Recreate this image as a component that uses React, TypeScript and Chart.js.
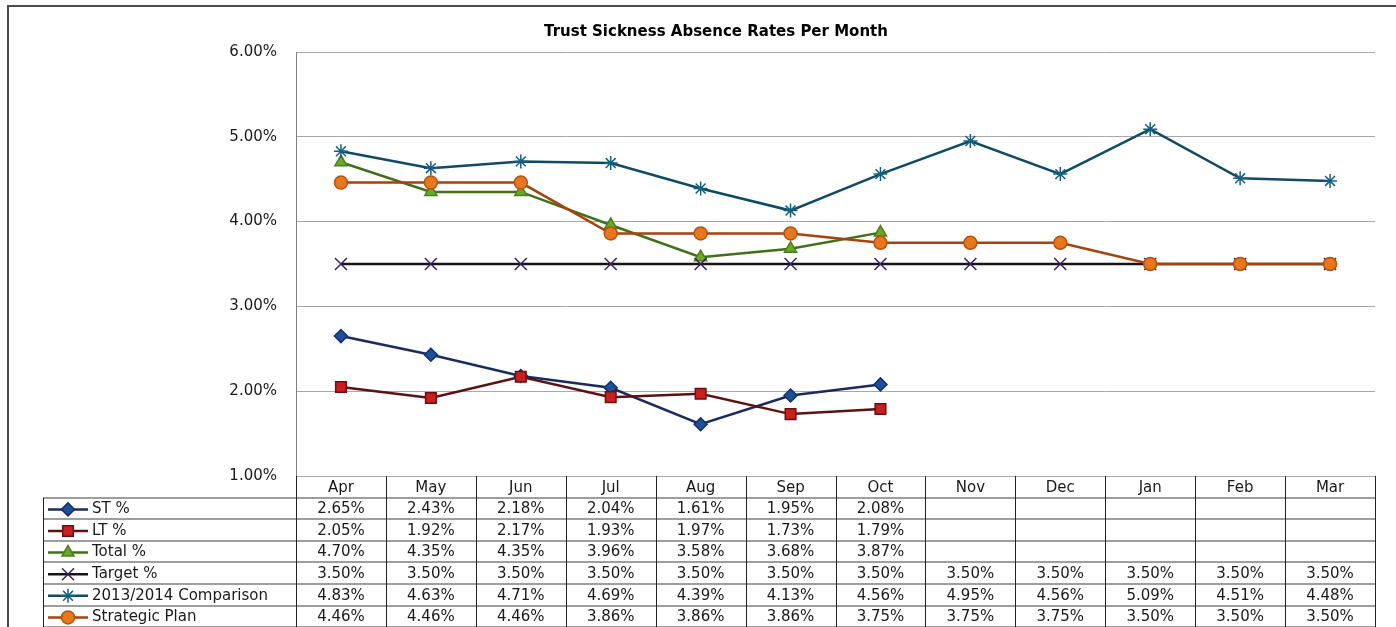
import React, { useEffect, useRef } from "react";
import { Chart, registerables } from "chart.js";

Chart.register(...registerables);

const months = ["Apr", "May", "Jun", "Jul", "Aug", "Sep", "Oct", "Nov", "Dec", "Jan", "Feb", "Mar"];
const stValues = [2.65, 2.43, 2.18, 2.04, 1.61, 1.95, 2.08, null, null, null, null, null];
const ltValues = [2.05, 1.92, 2.17, 1.93, 1.97, 1.73, 1.79, null, null, null, null, null];
const totalValues = [4.7, 4.35, 4.35, 3.96, 3.58, 3.68, 3.87, null, null, null, null, null];
const targetValues = [3.5, 3.5, 3.5, 3.5, 3.5, 3.5, 3.5, 3.5, 3.5, 3.5, 3.5, 3.5];
const comparisonValues = [4.83, 4.63, 4.71, 4.69, 4.39, 4.13, 4.56, 4.95, 4.56, 5.09, 4.51, 4.48];
const strategicValues = [4.46, 4.46, 4.46, 3.86, 3.86, 3.86, 3.75, 3.75, 3.75, 3.5, 3.5, 3.5];
const seriesLabels = ["ST %", "LT %", "Total %", "Target %", "2013/2014 Comparison", "Strategic Plan"];
const titleText = "Trust Sickness Absence Rates Per Month";
const yMin = 1;
const yMax = 6;
const yStep = 1;

const FONT = "'DejaVu Sans', sans-serif";

type Style = {
  line: string;
  fill: string;
  border: string;
  shape: string;
  radius: number;
};

const styles: Style[] = [
  { line: "#1b2b5e", fill: "#1f4f96", border: "#12306a", shape: "rectRot", radius: 6.5 },
  { line: "#5a1212", fill: "#c81f1f", border: "#6e0e0e", shape: "rect", radius: 7.5 },
  { line: "#40701a", fill: "#6aa828", border: "#4c7f1c", shape: "triangle", radius: 7 },
  { line: "#151515", fill: "#3b2068", border: "#3b2068", shape: "crossRot", radius: 8.5 },
  { line: "#0f4a66", fill: "#15607f", border: "#15607f", shape: "star", radius: 7 },
  { line: "#a5420f", fill: "#e8761c", border: "#b5520f", shape: "circle", radius: 6.5 },
];

const seriesValues = [stValues, ltValues, totalValues, targetValues, comparisonValues, strategicValues];

function drawMarker(ctx: CanvasRenderingContext2D, s: Style, x: number, y: number) {
  const r = s.radius;
  ctx.save();
  ctx.fillStyle = s.fill;
  ctx.strokeStyle = s.border;
  ctx.lineWidth = 1.5;
  ctx.beginPath();
  if (s.shape === "rectRot") {
    ctx.moveTo(x - r, y);
    ctx.lineTo(x, y - r);
    ctx.lineTo(x + r, y);
    ctx.lineTo(x, y + r);
    ctx.closePath();
    ctx.fill();
    ctx.stroke();
  } else if (s.shape === "rect") {
    const h = r * Math.SQRT1_2;
    ctx.rect(x - h, y - h, 2 * h, 2 * h);
    ctx.fill();
    ctx.stroke();
  } else if (s.shape === "triangle") {
    ctx.moveTo(x, y - r);
    ctx.lineTo(x + r * 0.866, y + r * 0.5);
    ctx.lineTo(x - r * 0.866, y + r * 0.5);
    ctx.closePath();
    ctx.fill();
    ctx.stroke();
  } else if (s.shape === "crossRot") {
    const h = r * Math.SQRT1_2;
    ctx.moveTo(x - h, y - h);
    ctx.lineTo(x + h, y + h);
    ctx.moveTo(x + h, y - h);
    ctx.lineTo(x - h, y + h);
    ctx.stroke();
  } else if (s.shape === "star") {
    const h = r * Math.SQRT1_2;
    ctx.moveTo(x - h, y - h);
    ctx.lineTo(x + h, y + h);
    ctx.moveTo(x + h, y - h);
    ctx.lineTo(x - h, y + h);
    ctx.moveTo(x, y - r);
    ctx.lineTo(x, y + r);
    ctx.moveTo(x - r, y);
    ctx.lineTo(x + r, y);
    ctx.stroke();
  } else {
    ctx.arc(x, y, r, 0, Math.PI * 2);
    ctx.fill();
    ctx.stroke();
  }
  ctx.restore();
}

const tablePlugin = {
  id: "dataTable",
  afterDraw(chart: any) {
    const { ctx, chartArea, scales } = chart;
    const xs = scales.x;
    const n = months.length;
    const colW = (chartArea.right - chartArea.left) / n;
    const top = chartArea.bottom;
    const rowH = 21.6;
    const legendLeft = 43;
    const tableLeft = chartArea.left;
    const tableRight = chartArea.right;
    const rowsTop = top + rowH;
    const bottom = rowsTop + rowH * seriesLabels.length;

    ctx.save();
    // outer frame
    ctx.strokeStyle = "#4a4a4a";
    ctx.lineWidth = 2;
    ctx.beginPath();
    ctx.moveTo(8, 1000);
    ctx.lineTo(8, 6);
    ctx.lineTo(1400, 6);
    ctx.stroke();

    // title
    ctx.fillStyle = "#000";
    ctx.font = `bold 15px ${FONT}`;
    ctx.textAlign = "center";
    ctx.textBaseline = "middle";
    ctx.fillText(titleText, 716, 32);

    // horizontal table lines
    ctx.lineWidth = 1.5;
    ctx.strokeStyle = "#7f7f7f";
    ctx.beginPath();
    for (let r = 1; r <= seriesLabels.length + 1; r++) {
      const yy = Math.round(top + rowH * r);
      ctx.moveTo(legendLeft, yy);
      ctx.lineTo(tableRight, yy);
    }
    ctx.stroke();

    // vertical lines
    ctx.lineWidth = 1;
    ctx.strokeStyle = "#222";
    ctx.beginPath();
    for (let i = 0; i <= n; i++) {
      const xx = Math.round(tableLeft + colW * i) + 0.5;
      ctx.moveTo(xx, top);
      ctx.lineTo(xx, bottom);
    }
    ctx.moveTo(legendLeft + 0.5, rowsTop);
    ctx.lineTo(legendLeft + 0.5, bottom);
    ctx.stroke();

    // header
    ctx.fillStyle = "#1a1a1a";
    ctx.font = `15px ${FONT}`;
    ctx.textAlign = "center";
    ctx.textBaseline = "middle";
    for (let i = 0; i < n; i++) {
      ctx.fillText(months[i], xs.getPixelForValue(i), top + rowH / 2 + 1);
    }

    // rows
    for (let s = 0; s < seriesLabels.length; s++) {
      const cy = rowsTop + rowH * s + rowH / 2 + 1;
      const st = styles[s];
      ctx.strokeStyle = st.line;
      ctx.lineWidth = 2.5;
      ctx.beginPath();
      ctx.moveTo(48, cy);
      ctx.lineTo(88, cy);
      ctx.stroke();
      drawMarker(ctx, st, 68, cy);
      ctx.fillStyle = "#1a1a1a";
      ctx.font = `15px ${FONT}`;
      ctx.textAlign = "left";
      ctx.fillText(seriesLabels[s], 92, cy);
      ctx.textAlign = "center";
      const vals = seriesValues[s];
      for (let i = 0; i < n; i++) {
        const v = vals[i];
        if (v === null || v === undefined) continue;
        ctx.fillText(v.toFixed(2) + "%", xs.getPixelForValue(i), cy);
      }
    }
    ctx.restore();
  },
};

export default function App() {
  const ref = useRef<HTMLCanvasElement | null>(null);

  useEffect(() => {
    if (!ref.current) return;
    const datasets = seriesLabels.map((label, i) => ({
      label,
      data: seriesValues[i],
      borderColor: styles[i].line,
      backgroundColor: styles[i].fill,
      borderWidth: 2.5,
      pointStyle: styles[i].shape as any,
      pointRadius: styles[i].radius,
      pointBackgroundColor: styles[i].fill,
      pointBorderColor: styles[i].border,
      pointBorderWidth: 1.5,
      tension: 0,
      spanGaps: false,
      order: seriesLabels.length - 1 - i,
    }));
    const chart = new Chart(ref.current, {
      type: "line",
      data: { labels: months, datasets },
      plugins: [tablePlugin],
      options: {
        animation: false,
        responsive: true,
        maintainAspectRatio: false,
        layout: { padding: { left: 0, right: 21, top: 52, bottom: 151 } },
        plugins: {
          legend: { display: false },
          tooltip: { enabled: false },
          title: { display: false },
        },
        scales: {
          x: {
            type: "category",
            offset: true,
            display: false,
          },
          y: {
            min: yMin,
            max: yMax,
            afterFit(scale: any) {
              scale.width = 296;
            },
            ticks: {
              stepSize: yStep,
              padding: 19,
              color: "#1a1a1a",
              font: { family: FONT, size: 15 },
              callback: (v: any) => Number(v).toFixed(2) + "%",
            },
            grid: { color: "#a8a8a8", lineWidth: 1, drawTicks: false },
            border: { display: true, color: "#808080", width: 1 },
          },
        },
      },
    });
    return () => chart.destroy();
  }, []);

  return (
    <div style={{ position: "absolute", left: 0, top: 0, width: 1396, height: 627, background: "#fff" }}>
      <canvas ref={ref} />
    </div>
  );
}
